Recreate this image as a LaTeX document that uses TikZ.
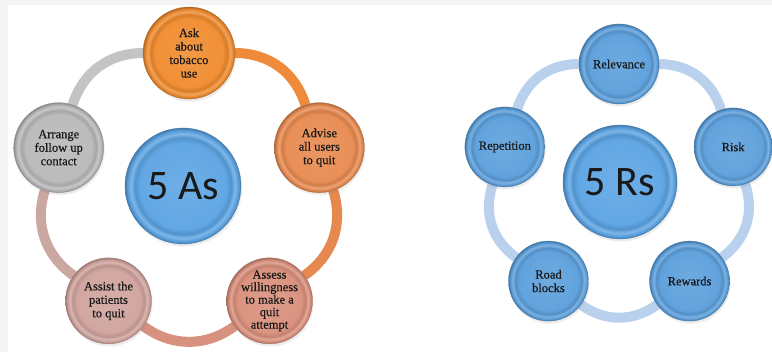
\documentclass[tikz,border=0pt]{standalone}
\usepackage{fontspec}
\setmainfont[FakeBold=0.5]{Liberation Serif}
\newfontfamily\cfont{Carlito}
\usetikzlibrary{shadows}
\pgfdeclarelayer{bg}
\pgfsetlayers{bg,main}
\definecolor{bgc}{HTML}{F4F4F2}
\definecolor{askc}{HTML}{F08A2C}
\definecolor{advc}{HTML}{E8894E}
\definecolor{assc}{HTML}{D98E7A}
\definecolor{astc}{HTML}{CFA29C}
\definecolor{arrc}{HTML}{B8B8B8}
\definecolor{midblue}{HTML}{5AA3E3}
\definecolor{rblue}{HTML}{5A9EDB}
\definecolor{ringA}{HTML}{EE8A3A}
\definecolor{ringB}{HTML}{E6894E}
\definecolor{ringC}{HTML}{D8917F}
\definecolor{ringD}{HTML}{CBA7A1}
\definecolor{ringE}{HTML}{C4C4C4}
\definecolor{ringR}{HTML}{BAD1EE}
\colorlet{btnbase}{midblue}
\pgfdeclareradialshading[btnbase]{btnshade}{\pgfpoint{0bp}{0bp}}{color(0bp)=(btnbase!88!white); color(18.5bp)=(btnbase!95!white); color(20.8bp)=(btnbase!90!black); color(22.4bp)=(btnbase!78!white); color(24bp)=(btnbase!95!black); color(25bp)=(btnbase!75!black); color(50bp)=(btnbase!75!black)}
\tikzset{
  bc/.code={\colorlet{btnbase}{#1}},
  btn/.style={circle, inner sep=0pt, minimum size=#1, shading=btnshade,
    draw=btnbase!75!black, line width=0.3pt, align=center, text=black!90,
    font=\fontsize{12.5}{13.5}\selectfont,
    drop shadow={opacity=0.15, shadow xshift=1pt, shadow yshift=-2.5pt}},
  ring/.style={line width=10pt, draw=#1},
}
\begin{document}
\begin{tikzpicture}[x=1pt,y=1pt]
\useasboundingbox (0,0) rectangle (772,352);
\begin{pgfonlayer}{bg}
\fill[bgc] (0,0) rectangle (772,352);
\fill[white] (8,0) rectangle (772,347);
\end{pgfonlayer}
% ---- 5 As ----
\begin{scope}[shift={(189,162)}]
\node[bc=askc, btn=92pt] (ask) at (90:137pt) {Ask\\about\\tobacco\\use};
\node[bc=advc, btn=90pt] (adv) at (18:137pt) {Advise\\all users\\to quit};
\node[bc=assc, btn=86pt, font=\fontsize{12.5}{12.5}\selectfont] (ass) at (-54:137pt) {Assess\\willingness\\to make a\\quit\\attempt};
\node[bc=astc, btn=86pt] (ast) at (-126:137pt) {Assist the\\patients\\to quit};
\node[bc=arrc, btn=90pt] (arr) at (162:137pt) {Arrange\\follow up\\contact};
\node[bc=midblue, btn=116pt, font=\cfont\fontsize{42}{42}\selectfont] (fiveA) at (-6pt,4pt) {5 As};
\end{scope}
\begin{pgfonlayer}{bg}
\draw[ring=ringA] (ask) to[bend left=36] (adv);
\draw[ring=ringB] (adv) to[bend left=36] (ass);
\draw[ring=ringC] (ass) to[bend left=36] (ast);
\draw[ring=ringD] (ast) to[bend left=36] (arr);
\draw[ring=ringE] (arr) to[bend left=36] (ask);
\end{pgfonlayer}
% ---- 5 Rs ----
\begin{scope}[shift={(619,168)}]
\node[bc=rblue, btn=80pt] (rel) at (90:120pt) {Relevance};
\node[bc=rblue, btn=78pt] (risk) at (18:120pt) {Risk};
\node[bc=rblue, btn=80pt] (rew) at (-54:120pt) {Rewards};
\node[bc=rblue, btn=80pt] (road) at (-126:120pt) {Road\\blocks};
\node[bc=rblue, btn=80pt] (rep) at (162:120pt) {Repetition};
\node[bc=midblue, btn=114pt, font=\cfont\fontsize{42}{42}\selectfont] (fiveR) at (1pt,2pt) {5 Rs};
\end{scope}
\begin{pgfonlayer}{bg}
\draw[ring=ringR] (rel) to[bend left=36] (risk);
\draw[ring=ringR] (risk) to[bend left=36] (rew);
\draw[ring=ringR] (rew) to[bend left=36] (road);
\draw[ring=ringR] (road) to[bend left=36] (rep);
\draw[ring=ringR] (rep) to[bend left=36] (rel);
\end{pgfonlayer}
\end{tikzpicture}
\end{document}
